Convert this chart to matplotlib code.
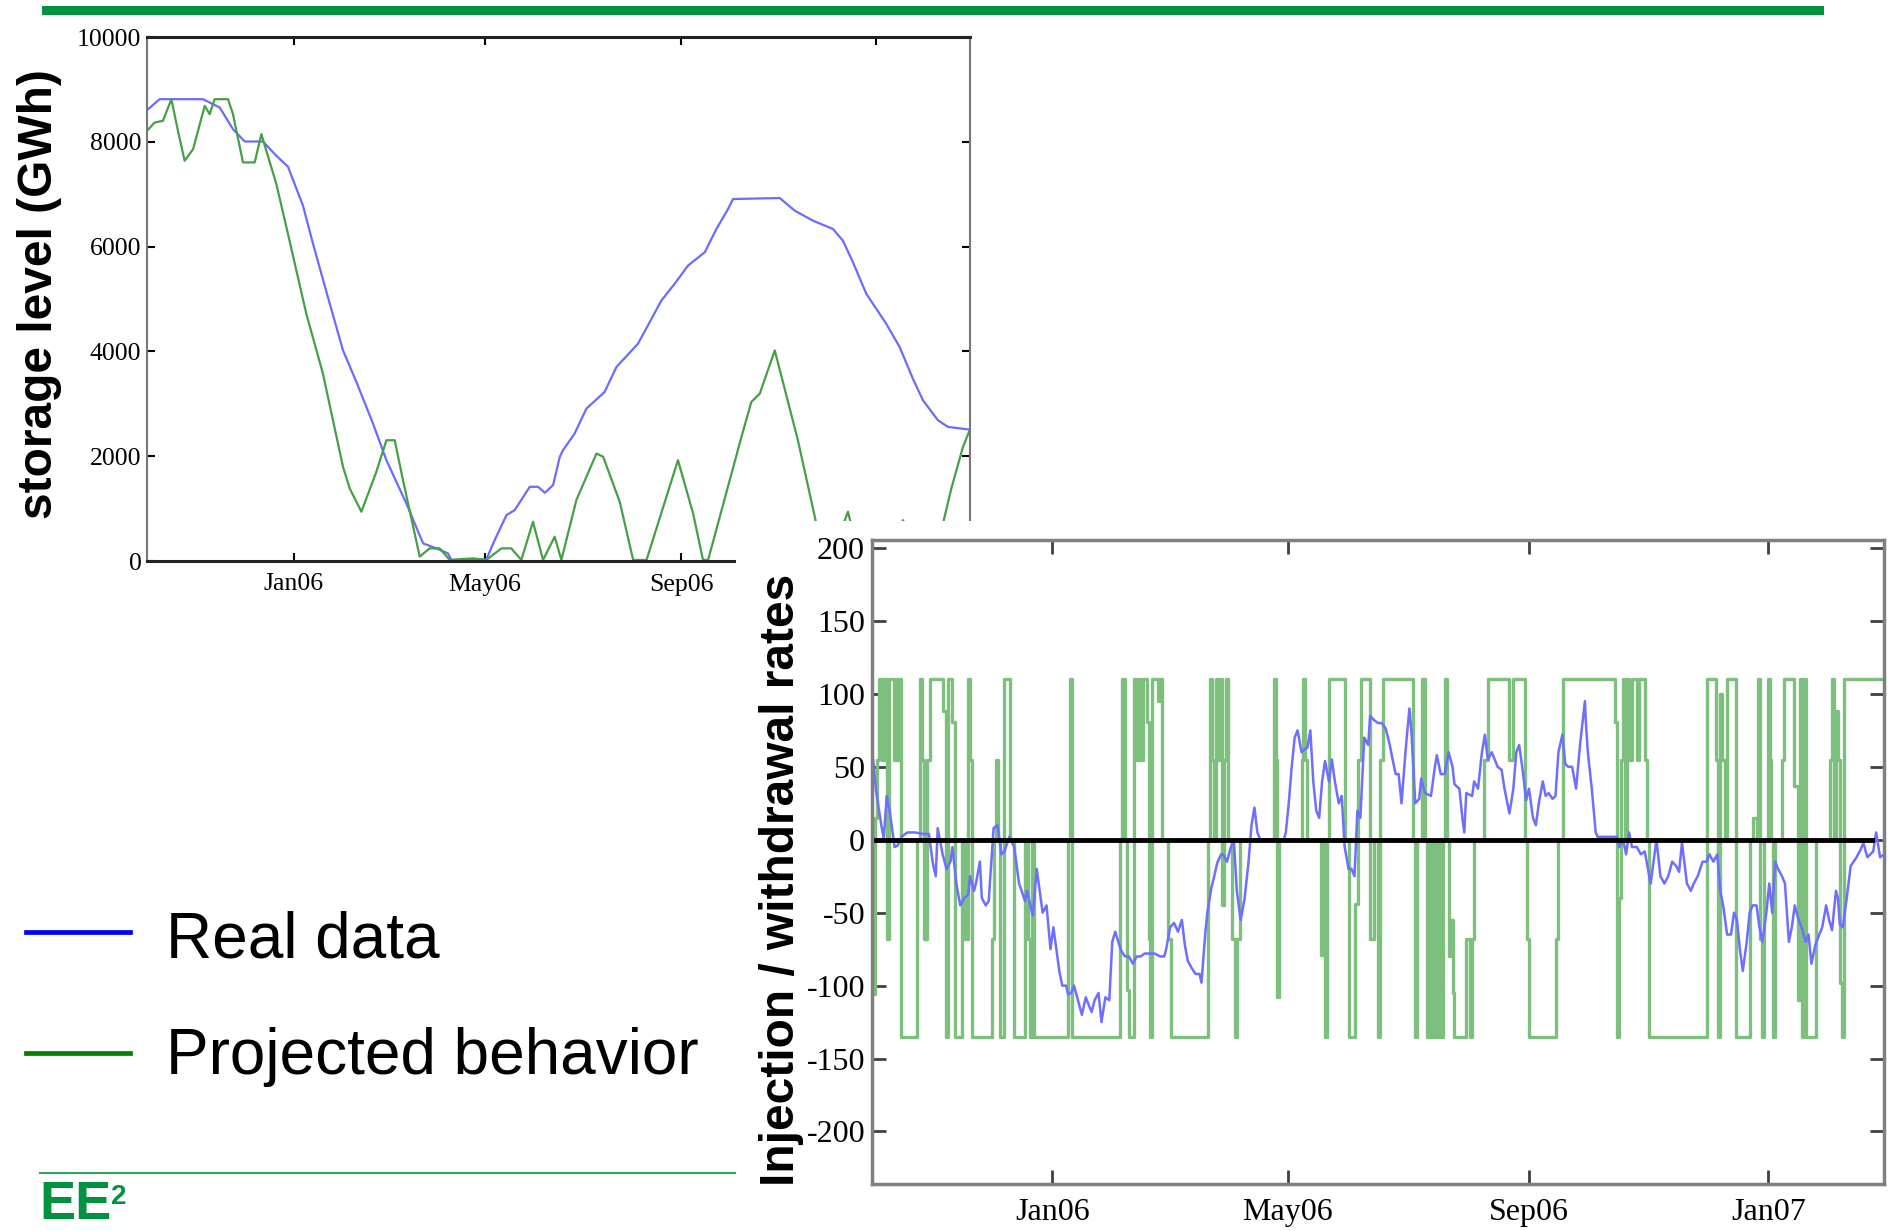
import numpy as np
import matplotlib
matplotlib.use("Agg")
import matplotlib.pyplot as plt
import matplotlib.dates as mdates
from matplotlib.patches import Rectangle
from matplotlib.lines import Line2D

plt.rcParams['axes.unicode_minus'] = False

# day offsets counted from 1 Oct 2005
start = mdates.date2num(np.datetime64('2005-10-01'))
end_day = 516  # 1 Mar 2007

# --- top chart: storage level (GWh)
store_real_days = [0, 7.9, 35.1, 45.6, 53.9, 61.3, 72.7, 81.1, 88.4, 97.8, 104.1, 114.6, 122.9,
                   131.3, 141.7, 150.1, 162.6, 173.1, 181.4, 188.7, 190.8, 212.8, 218, 225.4,
                   230.5, 240, 245.2, 249.4, 254.6, 258.8, 260.8, 268.1, 275.5, 286.9, 294.3,
                   307.8, 315.2, 322.5, 330.8, 339.2, 349.7, 357, 364.3, 367.4, 396.7, 406.1,
                   417.5, 430.1, 436.3, 442.6, 451, 463.5, 471.9, 480.2, 486.5, 495.9, 502.2, 515.8]
store_real = [8603, 8813, 8813, 8654, 8241, 8006, 8006, 7733, 7524, 6781, 6051, 4908, 4019,
              3416, 2622, 1924, 1098, 336, 241, 146, 20, 30, 400, 876,
              971, 1416, 1416, 1302, 1448, 1987, 2114, 2432, 2908, 3225, 3701,
              4146, 4559, 4971, 5289, 5638, 5892, 6336, 6717, 6908, 6927, 6686,
              6495, 6336, 6114, 5702, 5098, 4527, 4083, 3479, 3067, 2686, 2559, 2508]

store_proj_days = [0, 4.8, 10, 15.3, 19.4, 23.6, 28.9, 36.2, 39.3, 42.4, 50.8, 53.9, 60.2, 67.5,
                   71.7, 81.1, 88.4, 99.9, 110.3, 122.9, 127.1, 134.4, 143.8, 150.1, 155.3,
                   160.5, 171, 177.2, 183.5, 189.8, 204.4, 212.8, 222.2, 228.4, 234.7, 242,
                   248.3, 255.6, 259.8, 269.2, 281.8, 286, 296.4, 304.8, 313.2, 332.9, 342.4,
                   348.6, 351.8, 372.7, 378.9, 384.2, 393.6, 408.1, 419.6, 428, 439.5, 447,
                   464, 474, 484, 492, 499.1, 504.3, 511.6, 515.8]
store_proj = [8210, 8368, 8400, 8813, 8210, 7638, 7860, 8686, 8527, 8813, 8813, 8527, 7606, 7606,
              8146, 7194, 6241, 4717, 3575, 1797, 1384, 940, 1702, 2305, 2305,
              1543, 83, 241, 241, 20, 50, 20, 241, 241, 20, 749,
              20, 463, 20, 1162, 2051, 1990, 1130, 20, 20, 1924, 908,
              20, 20, 2368, 3035, 3194, 4019, 2305, 718, 0, 940, 0,
              0, 780, 0, 0, 718, 1384, 2178, 2495]

# --- bottom chart: injection / withdrawal rates
rate_real_days = [0, 1, 2, 5, 6, 7.5, 9, 10, 11.5, 13, 15, 18, 22, 26, 29, 31, 32.5, 33.5, 36, 38,
                  40, 41, 43, 45, 47, 49, 50, 52, 53, 55, 56, 58, 59.5, 62, 64, 66, 67.5, 70,
                  72.5, 75, 78, 79, 82, 84, 87, 89, 91, 92.5, 94, 95.5, 97, 99, 100, 101.5, 103,
                  105, 107, 109, 111, 112, 113.5, 115.5, 117, 119, 121, 122.5, 124, 127,
                  129, 131, 133, 135, 137, 139, 144, 147, 149, 150, 152, 154, 156, 158, 159.5,
                  161, 163, 165, 167, 168, 170, 171, 173, 174.5, 176, 178, 179, 181, 183, 184.5,
                  186, 188, 190, 192, 193.5, 195, 196.5, 198, 210, 211, 212.5, 214, 215.5, 217,
                  219, 220.5, 222, 223.5, 225, 226.5, 228, 229.5, 231, 233, 234.5, 236, 238,
                  239.5, 241, 243, 244.5, 246, 247.5, 249, 251, 253, 254, 256,
                  258, 260, 262, 264, 265, 267, 268.5, 270, 272, 274, 275, 277, 279, 280, 282,
                  285, 287, 288, 290, 292, 294, 296, 297, 299.5, 301, 302, 303, 306, 307, 309,
                  311, 312.5, 314, 316, 317.5, 319, 321, 322.5, 325, 327, 328.5, 330, 332,
                  333.5, 335, 337, 338.5, 340, 342, 343.5, 345, 347, 348.5, 350, 352, 353.5,
                  355, 357, 359, 361, 363.5, 364, 365, 367, 369, 370, 380, 381, 383, 384.5, 386,
                  387.5, 390, 392, 394, 397, 398.5, 400, 402, 404, 406, 408, 410, 411.5, 413,
                  415.5, 417.5, 419, 421, 423.5, 425.5, 427, 429, 431, 432.5, 434, 436, 438,
                  439.5, 441, 442.5, 444, 446, 447.5, 449, 451, 452.5, 454, 456, 457.5, 459,
                  460.5, 462, 464, 465.5, 467.5, 469, 470.5, 472.5, 474, 476, 477.5, 479, 481,
                  483, 484.5, 486.5, 488, 489.5, 491.5, 492.5, 493.5, 495, 497, 499, 500.5, 502,
                  504, 505.5, 507.5, 509, 510.5, 512, 514, 516]
rate_real = [61, 50, 34, 8, 1, 30, 20, 10, -5, -4, 2, 5, 5, 4, 4, -16, -25, 8, -10, -20,
             -15, -5, -30, -45, -40, -38, -25, -35, -30, -15, -40, -45, -42, 8, 10, -10, -8, 2,
             -5, -30, -42, -35, -52, -20, -50, -45, -75, -60, -75, -90, -100, -100, -106, -105, -100,
             -110, -120, -108, -115, -118, -110, -105, -125, -108, -110, -70, -63, -76,
             -80, -80, -85, -80, -80, -78, -78, -80, -80, -75, -60, -57, -63, -55, -72,
             -83, -88, -92, -92, -98, -63, -50, -33, -25, -16, -10, -10, -15, -5, 0,
             -35, -55, -40, -15, 10, 22, 5, 0, 0, 5, 25, 50, 70, 75,
             60, 62, 63, 75, 40, 20, 15, 40, 54, 40, 55, 40, 25,
             30, -5, -20, -20, -25, 20, 15, 70, 65, 85, 82,
             80, 80, 76, 65, 58, 45, 45, 25, 60, 90, 75, 25, 28, 42, 32,
             30, 50, 58, 45, 45, 60, 50, 38, 35, 15, 5, 32, 30, 40, 35,
             60, 72, 55, 60, 55, 50, 48, 35, 18, 35, 60, 65, 45,
             27, 35, 15, 10, 25, 40, 30, 32, 28, 30, 60, 72, 52,
             50, 50, 35, 65, 95, 80, 60, 35, 5, 2, 2, -5, 0, -10, 5,
             -5, -5, -10, -8, -30, -15, 0, -25, -30, -25, -15, -18, -22, -2,
             -30, -35, -30, -25, -15, -15, -10, -15, -10, -35, -45, -65, -65,
             -50, -55, -75, -90, -70, -50, -45, -45, -60, -70, -50, -30, -50,
             -15, -20, -25, -30, -70, -60, -45, -55, -60, -70, -65, -85, -72,
             -65, -60, -45, -55, -62, -35, -40, -58, -60, -40, -18, -15, -12,
             -7, -2, -12, -10, -8, 5, -12, -10]

# projected rate: value holds from each day until the next one
rate_proj_days = [0, 1.5, 2.5, 3.5, 5, 6, 7.5, 8.5, 11, 12, 13, 14, 15, 23, 24.5, 25.5, 26.5, 28,
                  29.5, 36, 37.5, 39, 41, 42.5, 46, 47.5, 49, 50, 51, 61, 62, 63, 64, 65.5, 67.5,
                  70.5, 72.5, 78, 79.5, 80.5, 81.5, 82.5, 100, 101, 102, 126.5, 127.5,
                  129, 130, 131, 133.5, 135, 136, 137, 138, 140, 141, 142, 143, 146, 147, 148,
                  151, 152.5, 171.5, 172.5, 173.5, 174.5, 175.5, 176.5, 177.5, 178.5, 179.5,
                  180.5, 181.5, 183.5, 185, 186, 187.5, 205, 206, 206.5, 207.5, 219, 220, 221,
                  222, 229, 230, 231, 232, 233, 241, 243, 246.5, 248, 249.5, 254, 256, 258,
                  259, 260.5, 276, 277, 278, 280.5, 282, 283, 284.5, 285.5, 287, 288, 289, 290,
                  291, 292, 293, 294, 295, 296, 297, 303, 305, 306, 307, 312, 314, 325, 327,
                  333, 334, 335, 349, 350, 352.5, 379, 380, 381, 382, 383, 384, 385, 386,
                  387.5, 390, 391, 394, 395, 396, 425.5, 430.5, 431.5, 432.5, 433.5, 435, 436,
                  440.5, 447.5, 449, 451, 452, 453, 454, 455, 457, 458, 458.5, 459.5, 460.5,
                  464, 465, 470, 472, 473, 474, 475, 476, 481.5, 488.5, 489.5, 490.5, 491.5,
                  492.5, 493.5, 494.5, 495.5, 516]
rate_proj = [-106, 15, 55, 110, 55, 110, -68, 110, 55, 110, 55, 110, -135, 0, 110, 55, -68, 55,
             110, 88, -135, 110, 81, -135, 0, -68, 110, 55, -135, -68, 0, 55, 0, -135, 110,
             0, -135, 0, -68, -135, 0, -135, 0, 110, -135, 0, 110,
             0, -103, -135, 110, 55, 110, 55, 110, 81, -68, -135, 110, 95, 110, 0,
             -68, -135, 0, 110, 55, 0, 110, 55, 110, -45, 55,
             110, 0, -68, -135, -68, 0, 110, 55, -108, 0, 55, 110, 55,
             0, -79, 0, -135, 0, 110, 0, -135, -44, 55, 110, -68, 0, -135,
             55, 110, 0, -135, 0, 110, 0, -135, 0, -135, 0, -135, 0, -135,
             0, 110, 0, -80, -55, -105, -135, -68, -135, -68, 0, 55, 110, 55, 110,
             0, -68, -135, -68, 0, 110, 81, -135, -40, 55, 110, 0, 110, 55,
             110, 55, 110, 55, 0, -135, 110, 55, -135, 100, 55, 0, 110,
             -135, 0, 15, 0, 110, -68, -135, 0, 110, 55, 0, -135, 0,
             55, 110, 37, -110, 110, -135, 110, -135, 0, 55, 110, 0, 88,
             55, -98, -135, 110, 110]

rate_ticks = [-200, -150, -100, -50, 0, 50, 100, 150, 200]
storage_ticks = [0, 2000, 4000, 6000, 8000, 10000]

W, H = 1888, 1231


def box(x0, y0, x1, y1):
    return [x0 / W, 1 - y1 / H, (x1 - x0) / W, (y1 - y0) / H]


def style_dates(ax):
    ax.xaxis.set_major_locator(mdates.MonthLocator(bymonth=[1, 5, 9]))
    ax.xaxis.set_major_formatter(mdates.DateFormatter('%b%y'))
    ax.set_xlim(start, start + end_day)


fig = plt.figure(figsize=(W / 100, H / 100), dpi=100)

# top chart
ax1 = fig.add_axes(box(147, 37, 970, 561))
ax1.set_zorder(0)
ax1.plot(start + np.array(store_real_days), store_real, color='#6b6bff', lw=1.6)
ax1.plot(start + np.array(store_proj_days), store_proj, color='#45a045', lw=1.6)
style_dates(ax1)
ax1.set_ylim(0, 10000)
ax1.set_yticks(storage_ticks)
ax1.tick_params(direction='in', length=6, width=1.5, top=True, right=True, pad=4,
                labelsize=18.5, labelfontfamily='Liberation Serif')
ax1.tick_params(axis='x', pad=9)
for side in ['left', 'right']:
    ax1.spines[side].set_color('#777777')
    ax1.spines[side].set_linewidth(1.5)
for side in ['top', 'bottom']:
    ax1.spines[side].set_color('#222222')
    ax1.spines[side].set_linewidth(2.2)

# white block of the pasted second picture
fig.add_artist(Rectangle((736 / W, 0), 1 - 736 / W, 1 - 521 / H, transform=fig.transFigure,
                         facecolor='white', edgecolor='none', zorder=1))

# bottom chart
ax2 = fig.add_axes(box(872, 540, 1884, 1184))
ax2.set_zorder(2)
ax2.plot(start + np.array(rate_proj_days), rate_proj, color='#7dbf7d', lw=2.4,
         drawstyle='steps-post')
ax2.plot(start + np.array(rate_real_days), rate_real, color='#6e6eff', lw=1.8)
ax2.plot([start, start + 510], [0, 0], color='black', lw=3.5)
style_dates(ax2)
ax2.set_ylim(-236, 205.5)
ax2.set_yticks(rate_ticks)
ax2.tick_params(direction='in', length=10, width=2, top=True, right=True, pad=5,
                labelsize=23, labelfontfamily='Liberation Serif', color='#404040')
ax2.tick_params(axis='x', pad=10)
for side in ax2.spines:
    ax2.spines[side].set_color('#808080')
    ax2.spines[side].set_linewidth(2.5)

# axis titles
fig.text(40 / W, 1 - 294 / H, 'storage level (GWh)', rotation=90, ha='center', va='center',
         fontsize=34.5, fontweight='bold', family='Liberation Sans', zorder=3)
fig.text(781 / W, 1 - 880 / H, 'Injection / withdrawal rates', rotation=90, ha='center',
         va='center', fontsize=34.5, fontweight='bold', family='Liberation Sans', zorder=3)

# legend
fig.add_artist(Line2D([26 / W, 130 / W], [1 - 932 / H] * 2, color='#0000ff', lw=3.4))
fig.add_artist(Line2D([26 / W, 130 / W], [1 - 1053 / H] * 2, color='#008000', lw=3.4))
fig.text(166 / W, 1 - 941 / H, 'Real data', ha='left', va='center', fontsize=46,
         family='Liberation Sans')
fig.text(166 / W, 1 - 1057 / H, 'Projected behavior', ha='left', va='center', fontsize=46,
         family='Liberation Sans')

# slide decoration
fig.add_artist(Rectangle((42 / W, 1 - 15 / H), (1824 - 42) / W, 9 / H, transform=fig.transFigure,
                         facecolor='#00923f', edgecolor='none'))
fig.add_artist(Line2D([40 / W, 735 / W], [1 - 1173 / H] * 2, color='#2ea55a', lw=1.5))
fig.text(39 / W, 1 / H, 'EE', fontsize=39, fontweight='bold', color='#00923f',
         family='Liberation Sans', va='bottom')
fig.text(111 / W, 1 - 1204 / H, '2', fontsize=20, fontweight='bold', color='#00923f',
         family='Liberation Sans', va='baseline')

fig.savefig('out.png', dpi=100)
